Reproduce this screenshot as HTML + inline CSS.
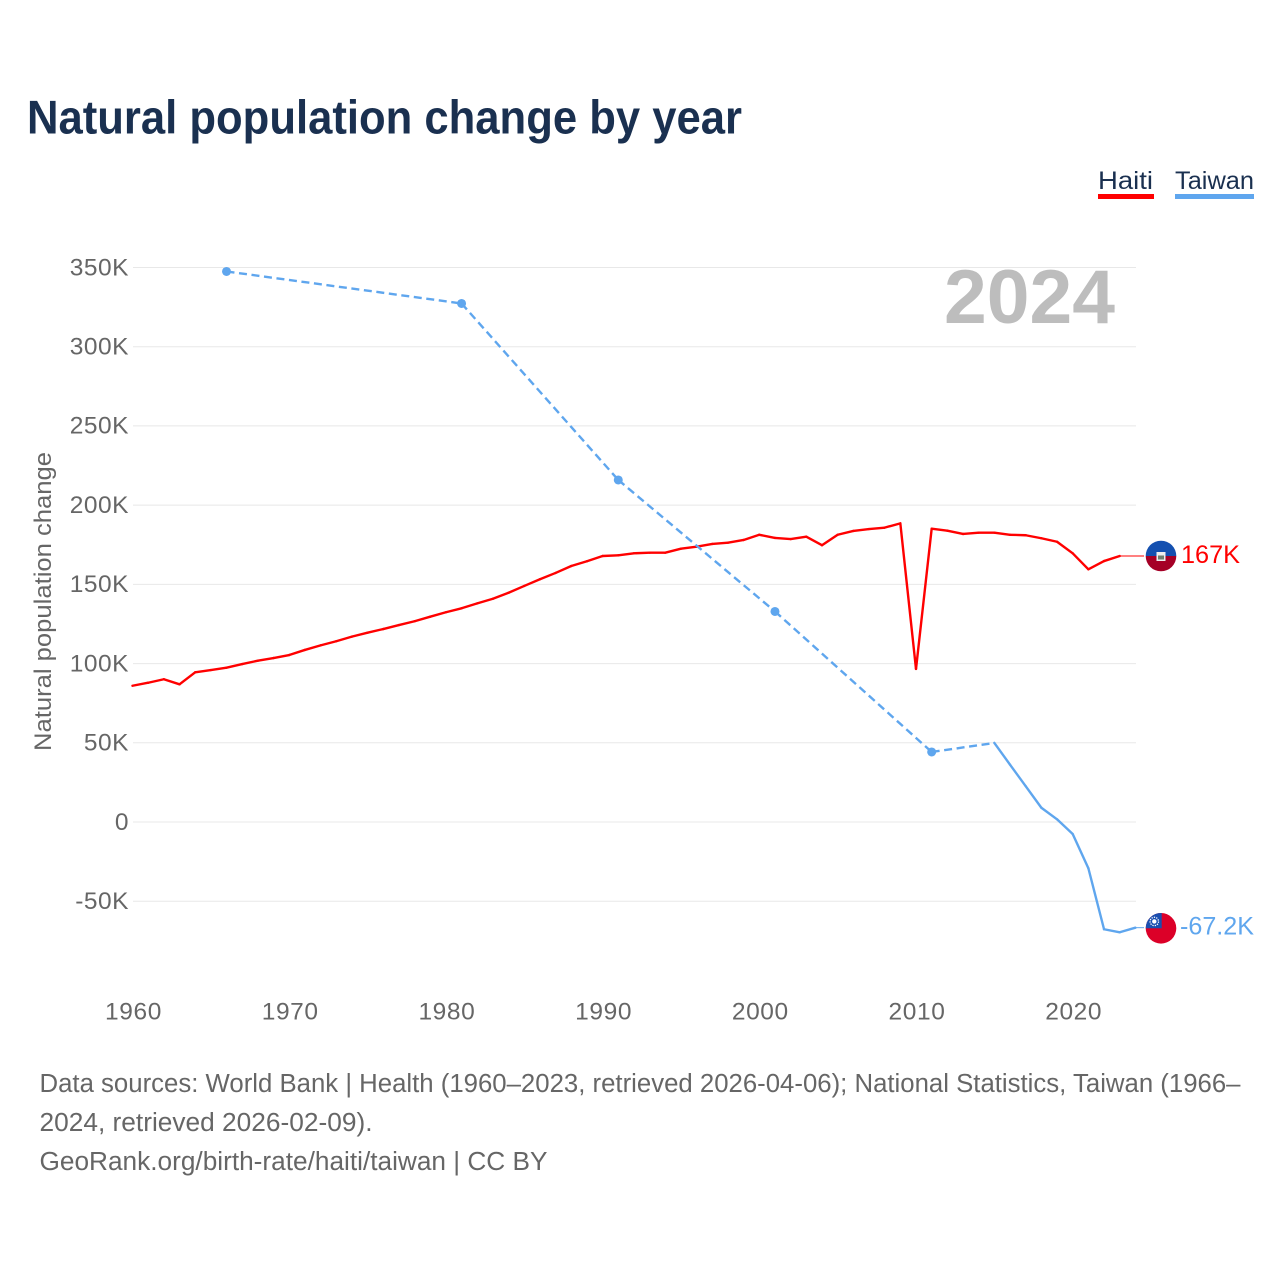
<!DOCTYPE html>
<html lang="en">
<head>
<meta charset="utf-8">
<title>Natural population change by year</title>
<style>
html,body{margin:0;padding:0;background:#fff;width:1280px;height:1280px;overflow:hidden}
svg{display:block;font-family:"Liberation Sans",sans-serif}
</style>
</head>
<body>
<svg id="chart" width="1280" height="1280" viewBox="0 0 1280 1280" xmlns="http://www.w3.org/2000/svg">
  <defs>
    <clipPath id="flag-clip-haiti"><circle cx="1161" cy="0" r="15.3"/></clipPath>
    <clipPath id="flag-clip-taiwan"><circle cx="1161" cy="0" r="15.3"/></clipPath>
  </defs>
  <rect x="0" y="0" width="1280" height="1280" fill="#fff"/>
  <text x="27" y="133.5" font-size="47" font-weight="700" fill="#1a3050" textLength="715" lengthAdjust="spacingAndGlyphs">Natural population change by year</text>

  <g>
    <text x="1098" y="189" font-size="25" fill="#1a3050" textLength="55" lengthAdjust="spacingAndGlyphs">Haiti</text>
    <rect x="1098" y="194" width="56" height="5" fill="#ff0000"/>
  </g>
  <g>
    <text x="1175" y="189" font-size="25" fill="#1a3050" textLength="79" lengthAdjust="spacingAndGlyphs">Taiwan</text>
    <rect x="1175" y="194" width="79" height="5" fill="#5fa6ee"/>
  </g>

  <g id="grid"></g>
  <g id="yticks"></g>
  <g id="xticks"></g>
  <text transform="translate(51,751) rotate(-90)" x="0" y="0" font-size="24.5" fill="#666" textLength="299" lengthAdjust="spacingAndGlyphs">Natural population change</text>
  <text x="944" y="323" font-size="76" font-weight="700" fill="#bdbdbd" textLength="171" lengthAdjust="spacingAndGlyphs">2024</text>

  <g id="series"></g>

  <g id="flag-haiti">
    <g clip-path="url(#flag-clip-haiti)">
      <rect x="1145" y="-16" width="32" height="16" fill="#1450b0"/>
      <rect x="1145" y="0" width="32" height="16" fill="#a50026"/>
      <rect x="1156.5" y="-4" width="9" height="9" fill="#eeeeee"/>
      <rect x="1158" y="-0.5" width="6" height="4" fill="#6f7f70"/>
    </g>
  </g>
  <g id="flag-taiwan">
    <g clip-path="url(#flag-clip-taiwan)">
      <rect x="1145" y="-16" width="32" height="32" fill="#dc0028"/>
      <rect x="1145" y="-16" width="16.7" height="16" fill="#1a4fb0"/>
      <circle cx="1154.3" cy="-6.8" r="4.2" fill="none" stroke="#fff" stroke-width="1.3" stroke-dasharray="1.3 1.1"/>
      <circle cx="1154.3" cy="-6.8" r="2.2" fill="#fff"/>
    </g>
  </g>
  <text id="label-haiti" x="1181" y="0" font-size="25" fill="#ff0000" textLength="59" lengthAdjust="spacingAndGlyphs"></text>
  <text id="label-taiwan" x="1180" y="0" font-size="25" fill="#5fa6ee" textLength="74" lengthAdjust="spacingAndGlyphs"></text>

  <g font-size="25.5" fill="#666">
    <text x="39.5" y="1092" textLength="1201" lengthAdjust="spacingAndGlyphs">Data sources: World Bank | Health (1960–2023, retrieved 2026-04-06); National Statistics, Taiwan (1966–</text>
    <text x="39.5" y="1131" textLength="333" lengthAdjust="spacingAndGlyphs">2024, retrieved 2026-02-09).</text>
    <text x="39.5" y="1170" textLength="508" lengthAdjust="spacingAndGlyphs">GeoRank.org/birth-rate/haiti/taiwan | CC BY</text>
  </g>
</svg>
<script>
const haitiYears = [1960,1961,1962,1963,1964,1965,1966,1967,1968,1969,1970,1971,1972,1973,1974,1975,1976,1977,1978,1979,1980,1981,1982,1983,1984,1985,1986,1987,1988,1989,1990,1991,1992,1993,1994,1995,1996,1997,1998,1999,2000,2001,2002,2003,2004,2005,2006,2007,2008,2009,2010,2011,2012,2013,2014,2015,2016,2017,2018,2019,2020,2021,2022,2023];
const haitiValues = [86.0,87.9,90.1,86.9,94.5,95.9,97.4,99.7,101.8,103.5,105.4,108.6,111.5,114.1,117.0,119.5,121.8,124.3,126.7,129.6,132.4,134.9,138.0,140.9,144.7,149.0,153.2,157.2,161.6,164.6,167.9,168.3,169.6,170.0,170.0,172.5,173.8,175.5,176.3,178.0,181.3,179.3,178.6,180.1,174.7,181.3,183.7,184.9,185.8,188.5,96.6,185.1,183.9,181.8,182.6,182.6,181.3,181.0,179.1,176.9,169.6,159.5,164.7,167.9];
const taiwanYears = [1966,1981,1991,2001,2011,2015,2016,2017,2018,2019,2020,2021,2022,2023,2024];
const taiwanValues = [347.5,327.3,215.9,132.9,44.2,49.9,36.2,22.6,9.0,1.7,-7.6,-29.2,-67.7,-69.6,-66.7];
const yTickValues = [-50,0,50,100,150,200,250,300,350];
const yTickLabels = ["-50K","0","50K","100K","150K","200K","250K","300K","350K"];
const xTickValues = [1960,1970,1980,1990,2000,2010,2020];
const xTickLabels = ["1960","1970","1980","1990","2000","2010","2020"];
const haitiEndLabel = "167K";
const taiwanEndLabel = "-67.2K";

const NS = "http://www.w3.org/2000/svg";
const xScale = year => 132.5 + (year - 1960) * 15.67;
const yScale = value => 822 - value * 1.5843;

const gridLayer = document.getElementById("grid");
const yTickLayer = document.getElementById("yticks");
const xTickLayer = document.getElementById("xticks");
const seriesLayer = document.getElementById("series");

yTickValues.forEach((value, i) => {
  const line = document.createElementNS(NS, "line");
  
  
  line.setAttribute("x1", 133);
  line.setAttribute("x2", 1136);
  line.setAttribute("y1", yScale(value));
  line.setAttribute("y2", yScale(value));
  line.setAttribute("stroke", "#e8e8e8");
  line.setAttribute("stroke-width", 1);
  gridLayer.appendChild(line);

  const label = document.createElementNS(NS, "text");
  
  
  label.setAttribute("x", 129);
  label.setAttribute("y", yScale(value) + 7.8);
  label.setAttribute("text-anchor", "end");
  label.setAttribute("font-size", 24.5);
  label.setAttribute("letter-spacing", 0.5);
  label.setAttribute("fill", "#666");
  label.textContent = yTickLabels[i];
  yTickLayer.appendChild(label);
});

xTickValues.forEach((year, i) => {
  const label = document.createElementNS(NS, "text");
  
  
  label.setAttribute("x", xScale(year) + 1);
  label.setAttribute("y", 1019.7);
  label.setAttribute("text-anchor", "middle");
  label.setAttribute("font-size", 24.5);
  label.setAttribute("letter-spacing", 0.6);
  label.setAttribute("fill", "#666");
  label.textContent = xTickLabels[i];
  xTickLayer.appendChild(label);
});

function drawSeries(years, values, color, seriesName) {
  for (let i = 0; i < years.length - 1; i++) {
    const segment = document.createElementNS(NS, "line");
    
    
    segment.setAttribute("data-series", seriesName);
    segment.setAttribute("x1", xScale(years[i]));
    segment.setAttribute("y1", yScale(values[i]));
    segment.setAttribute("x2", xScale(years[i + 1]));
    segment.setAttribute("y2", yScale(values[i + 1]));
    segment.setAttribute("stroke", color);
    segment.setAttribute("stroke-width", 2.4);
    segment.setAttribute("stroke-linecap", years[i + 1] - years[i] > 1 ? "butt" : "round");
    if (years[i + 1] - years[i] > 1) segment.setAttribute("stroke-dasharray", "8 4.6");
    seriesLayer.appendChild(segment);
  }
  years.forEach((year, i) => {
    const gapBefore = i === 0 || year - years[i - 1] > 1;
    const gapAfter = i === years.length - 1 || years[i + 1] - year > 1;
    if (gapBefore && gapAfter) {
      const dot = document.createElementNS(NS, "circle");
      
      
      dot.setAttribute("data-series", seriesName);
      dot.setAttribute("cx", xScale(year));
      dot.setAttribute("cy", yScale(values[i]));
      dot.setAttribute("r", 4.5);
      dot.setAttribute("fill", color);
      seriesLayer.appendChild(dot);
    }
  });
  const lastX = xScale(years[years.length - 1]);
  const lastY = yScale(values[values.length - 1]);
  const connector = document.createElementNS(NS, "line");
  
  
  connector.setAttribute("data-series", seriesName);
  connector.setAttribute("x1", lastX);
  connector.setAttribute("y1", lastY);
  connector.setAttribute("x2", 1144);
  connector.setAttribute("y2", lastY);
  connector.setAttribute("stroke", color);
  connector.setAttribute("stroke-width", 1);
  seriesLayer.appendChild(connector);
  return lastY;
}

const haitiEndY = drawSeries(haitiYears, haitiValues, "#ff0000", "haiti");
const taiwanEndY = drawSeries(taiwanYears, taiwanValues, "#5fa6ee", "taiwan");

document.getElementById("flag-haiti").setAttribute("transform", "translate(0," + haitiEndY + ")");
document.getElementById("flag-taiwan").setAttribute("transform", "translate(0," + (taiwanEndY + 0.6) + ")");
const labelHaiti = document.getElementById("label-haiti");
labelHaiti.setAttribute("y", haitiEndY + 7);
labelHaiti.textContent = haitiEndLabel;
const labelTaiwan = document.getElementById("label-taiwan");
labelTaiwan.setAttribute("y", taiwanEndY + 7);
labelTaiwan.textContent = taiwanEndLabel;
</script>
</body>
</html>
